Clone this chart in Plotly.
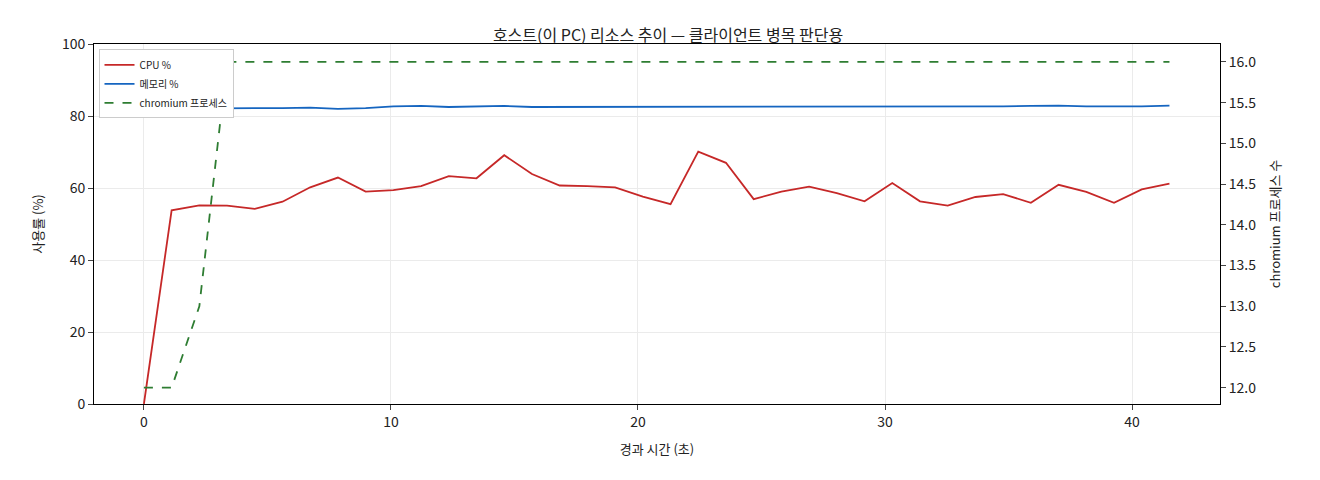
import plotly.graph_objects as go

step = 1.122
cpu = [0, 53.8, 55.2, 55.1, 54.2, 56.2, 60.2, 62.9, 59.0, 59.4, 60.5, 63.3, 62.7, 69.1,
       63.9, 60.7, 60.5, 60.2, 57.6, 55.5, 70.1, 67.0, 56.9, 59.0, 60.4, 58.6, 56.3, 61.4,
       56.3, 55.1, 57.5, 58.3, 55.9, 60.9, 58.9, 55.9, 59.6, 61.2]
mem = [82.0, 82.1, 82.2, 82.3, 82.2, 82.2, 82.3, 82.0, 82.2, 82.7, 82.8, 82.5, 82.6, 82.8,
       82.5, 82.5, 82.6, 82.6, 82.6, 82.7, 82.6, 82.7, 82.7, 82.7, 82.6, 82.5, 82.7, 82.7,
       82.7, 82.5, 82.5, 82.7, 82.8, 82.9, 82.7, 82.6, 82.7, 82.9]
chromium = [12, 12, 13, 16] + [16] * 34
t = [round(i * step, 3) for i in range(len(cpu))]

font = "Noto Sans CJK KR"
fig = go.Figure()
fig.add_trace(go.Scatter(x=t, y=cpu, name="CPU %", mode="lines",
                         line=dict(color="#c62828", width=1.8)))
fig.add_trace(go.Scatter(x=t, y=mem, name="메모리 %", mode="lines",
                         line=dict(color="#1565c0", width=1.8)))
fig.add_trace(go.Scatter(x=t, y=chromium, name="chromium 프로세스", mode="lines",
                         yaxis="y2", line=dict(color="#2e7d32", width=1.8, dash="dash")))

fig.update_layout(
    width=1320, height=480,
    plot_bgcolor="white", paper_bgcolor="white",
    font=dict(family=font, size=14, color="#222"),
    margin=dict(l=86, r=108, t=36, b=84),
    title=dict(text="호스트(이 PC) 리소스 추이 — 클라이언트 병목 판단용", x=0.5, y=0.955,
               xanchor="center", font=dict(size=16)),
    xaxis=dict(title=dict(text="경과 시간 (초)", font=dict(size=13)), range=[-2.02, 43.56],
               tickvals=[0, 10, 20, 30, 40], showgrid=True, gridcolor="#ebebeb",
               showline=True, linecolor="black", mirror=True, ticks="outside",
               zeroline=False),
    yaxis=dict(title=dict(text="사용률 (%)", font=dict(size=13)), range=[0, 100], dtick=20,
               showgrid=True, gridcolor="#ebebeb", showline=True, linecolor="black",
               ticks="outside", zeroline=False),
    yaxis2=dict(title=dict(text="chromium 프로세스 수", font=dict(size=13)),
                range=[11.8, 16.22], dtick=0.5, tickformat=".1f", overlaying="y",
                side="right", showgrid=False, showline=True, linecolor="black",
                ticks="outside", zeroline=False),
    legend=dict(x=0.004, y=0.985, xanchor="left", yanchor="top", bgcolor="white",
                bordercolor="#ccc", borderwidth=1, font=dict(size=10),
                tracegroupgap=0, itemwidth=30),
)
fig.write_html("out.html")
